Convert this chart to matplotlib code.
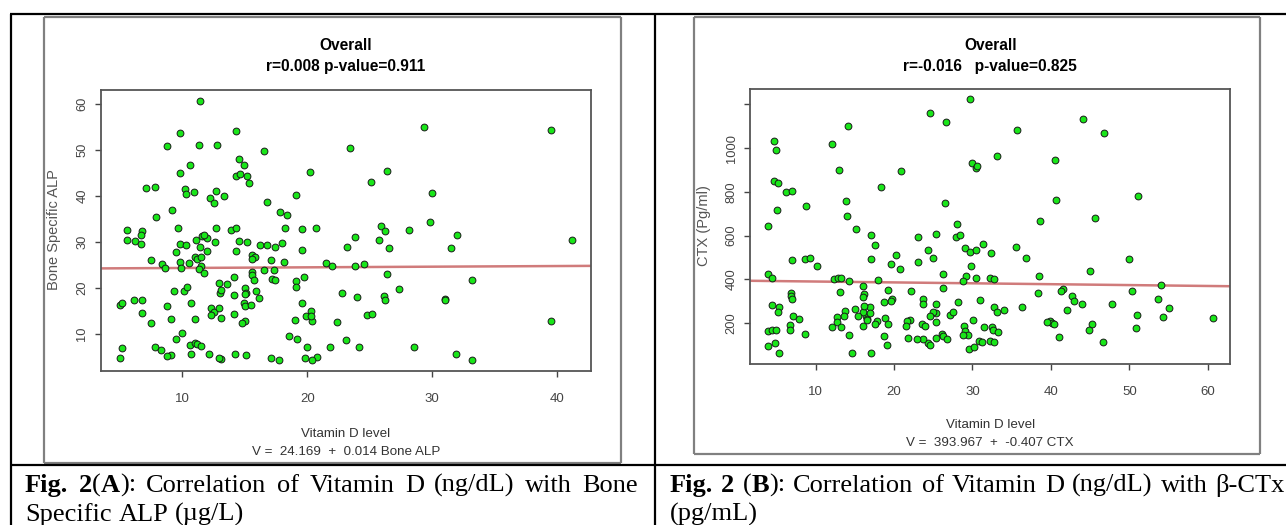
import numpy as np
import matplotlib
matplotlib.use("Agg")
import matplotlib.pyplot as plt
from matplotlib.lines import Line2D

W, H = 1286, 525

# ---- data ----
# Fig. 2(A): vitamin D vs bone specific ALP
vitd_a = [11.4, 9.8, 14.3, 8.75, 11.3, 12.8, 16.5, 29.3, 39.5, 23.4, 14.5, 14.9, 10.6, 9.8,
          14.3, 14.6, 15.2, 15.3, 20.2, 26.4, 25.1, 7.1, 7.8, 10.2, 10.3, 10.9, 12.7, 13.3,
          12.2, 12.5, 16.8, 19.1, 30.0, 7.9, 9.2, 17.8, 18.4, 5.6, 6.8, 6.7, 5.6, 6.2, 6.7,
          9.7, 9.8, 10.3, 9.5, 9.8, 9.9, 8.4, 8.6, 7.5, 10.5, 11.1, 11.6, 12.0, 11.75,
          11.4, 12.0, 11.0, 11.2, 11.5, 11.5, 11.3, 11.7, 12.6, 12.7, 13.9, 14.3, 14.5, 15.2,
          14.3, 16.2, 16.8, 17.4, 18.0, 15.6, 15.8, 15.6, 17.1, 18.1, 18.2, 19.6, 20.7, 19.6,
          16.5, 17.3, 15.6, 15.6, 15.7, 14.1, 17.2, 17.4, 19.1, 19.1, 19.7, 21.5, 22.0, 23.8,
          24.5, 23.2, 23.8, 25.7, 25.9, 26.2, 26.5, 26.4, 28.1, 29.8, 31.5, 32.0, 41.2, 33.2,
          31.0, 31.0, 39.5, 27.3, 24.0, 22.8, 26.1, 26.2, 24.8, 25.2, 22.4, 23.1, 24.1, 28.5,
          31.9, 33.2, 21.8, 20.8, 20.4, 19.8, 20.0, 19.6, 19.9, 20.3, 20.4, 20.3, 19.0, 19.2,
          18.5, 17.1, 17.7, 15.1, 14.2, 13.1, 12.9, 12.1, 10.7, 10.6, 11.0, 11.2, 11.5, 10.0,
          9.5, 9.1, 8.75, 7.8, 8.3, 5.0, 5.2, 5.0, 5.2, 6.1, 6.8, 6.8, 7.5, 8.75, 9.1, 9.3,
          10.1, 10.4, 10.7, 11.0, 12.3, 12.5, 12.3, 12.9, 13.1, 12.9, 13.0, 13.1, 13.6, 14.1,
          14.1, 15.05, 15.1, 15.05, 14.9, 15.05, 15.5, 15.05, 14.8, 15.9, 16.1]
alp_a = [60.7, 53.7, 54.0, 50.8, 51.0, 51.0, 49.8, 55.0, 54.2, 50.4, 48.1, 46.8, 46.6, 45.0,
         44.2, 44.8, 44.3, 42.8, 45.2, 45.5, 43.0, 41.8, 42.0, 41.4, 40.3, 40.8, 41.1, 40.0,
         39.5, 38.5, 38.7, 40.2, 40.6, 35.5, 36.9, 36.4, 35.8, 32.5, 32.3, 31.5, 30.5, 30.1, 29.5,
         33.1, 29.5, 29.4, 27.8, 25.6, 24.3, 25.1, 24.3, 26.1, 25.3, 30.4, 31.2, 30.8, 31.4,
         28.9, 28.1, 26.7, 26.2, 26.7, 24.8, 24.1, 23.2, 30.0, 32.9, 32.5, 32.9, 30.1, 29.9,
         28.0, 29.4, 29.4, 28.9, 29.8, 27.2, 26.7, 26.3, 26.1, 25.5, 33.1, 32.8, 33.0, 28.3,
         23.9, 23.9, 23.5, 22.7, 21.7, 22.3, 22.0, 21.7, 21.5, 20.1, 22.3, 25.3, 24.8, 24.8,
         25.1, 28.9, 31.1, 30.5, 33.4, 32.3, 28.6, 23.1, 32.5, 34.2, 28.7, 31.5, 30.5, 21.7,
         17.6, 17.3, 12.8, 19.8, 18.1, 18.9, 18.2, 17.3, 14.1, 14.3, 12.5, 8.7, 7.2, 7.2,
         5.5, 4.2, 7.2, 5.0, 4.2, 4.7, 7.1, 16.7, 13.9, 15.0, 12.8, 13.8, 13.1, 8.9,
         9.5, 4.7, 4.3, 5.3, 5.5, 4.5, 4.7, 5.5, 5.5, 7.5, 8.1, 7.7, 7.3, 10.2,
         8.8, 5.3, 5.1, 7.1, 6.5, 4.8, 6.9, 16.3, 16.7, 17.3, 17.3, 14.5, 12.3, 16.1, 13.3, 19.3,
         19.4, 20.2, 16.6, 13.3, 15.6, 14.7, 14.1, 15.5, 13.5, 21.1, 18.9, 19.6, 20.8, 18.5,
         14.4, 20.0, 18.9, 18.65, 16.6, 16.1, 16.2, 12.8, 12.3, 19.2, 17.8]

# Fig. 2(B): vitamin D vs CTX
vitd_b = [29.75, 24.6, 26.65, 14.15, 44.1, 46.8, 35.7, 4.75, 5.0, 12.15, 33.1, 40.5, 29.9, 30.4,
          30.6, 13.0, 20.9, 18.35, 4.65, 5.2, 6.3, 7.0, 51.1, 8.75, 13.9, 14.0, 26.5, 40.7, 5.1,
          3.95, 15.2, 17.1, 17.6, 23.0, 25.4, 28.0, 27.9, 28.4, 38.6, 45.6, 24.3, 25.0, 29.1,
          29.7, 30.5, 31.4, 32.4, 35.5, 36.8, 20.2, 19.6, 20.8, 23.1, 17.1, 8.7, 9.3, 7.0, 10.2,
          49.9, 3.95, 4.4, 12.4, 12.9, 13.2, 14.25, 18.0, 29.8, 29.2, 28.8, 26.3, 30.4, 32.3,
          32.8, 38.5, 45.0, 54.0, 16.0, 13.1, 6.9, 6.9, 7.0, 19.2, 19.8, 19.6, 16.2, 16.0, 22.2,
          26.3, 23.7, 23.7, 25.4, 28.2, 31.0, 38.3, 41.6, 41.3, 42.7, 43.0, 44.0, 47.8, 50.4,
          53.7, 55.1, 51.0, 54.3, 60.6, 36.3, 34.0, 32.7, 33.1, 42.1, 39.9, 40.2, 39.5, 40.4,
          45.3, 44.8, 50.9, 41.0, 46.6, 32.5, 32.6, 33.2, 31.5, 30.1, 28.9, 29.1, 29.4, 28.8,
          30.8, 31.2, 32.3, 32.8, 29.5, 30.2, 27.1, 27.5, 26.1, 26.3, 26.8, 25.3, 25.0, 24.6,
          25.4, 25.4, 23.6, 24.0, 24.3, 24.6, 23.7, 22.9, 21.8, 22.1, 21.6, 21.5, 18.9, 19.2,
          18.7, 19.1, 18.7, 17.9, 17.6, 17.0, 16.4, 16.6, 16.0, 16.2, 16.0, 16.9, 16.5, 15.0,
          15.4, 13.7, 13.6, 12.7, 12.8, 13.3, 12.15, 14.3, 14.6, 17.1, 8.7, 7.9, 7.1, 6.7, 6.8,
          5.3, 5.2, 4.5, 3.9, 4.4, 5.0, 3.9, 4.8, 5.3]
ctx_b = [1223, 1161, 1121, 1101, 1133, 1070, 1084, 1034, 992, 1020, 962, 946, 931, 908,
         918, 901, 896, 823, 850, 842, 800, 803, 781, 737, 757, 689, 748, 764, 715,
         644, 631, 604, 556, 592, 607, 654, 595, 602, 665, 682, 533, 498, 544,
         526, 533, 562, 520, 549, 498, 510, 472, 449, 478, 491, 495, 498, 486, 460,
         491, 426, 405, 402, 408, 408, 391, 397, 460, 417, 394, 422, 405, 405,
         402, 413, 439, 373, 371, 342, 336, 322, 310, 351, 312, 300, 335, 320, 345,
         362, 312, 289, 286, 298, 306, 338, 357, 346, 322, 302, 289, 289, 345,
         310, 268, 238, 229, 223, 273, 262, 273, 251, 259, 211, 200, 206, 194,
         197, 168, 176, 136, 112, 182, 169, 160, 184, 214, 188, 165, 145, 145,
         117, 112, 118, 112, 82, 89, 237, 250, 151, 143, 128, 245, 249, 234,
         206, 132, 197, 185, 109, 101, 126, 128, 132, 212, 210, 187, 223, 197,
         143, 101, 295, 208, 197, 274, 234, 218, 249, 278, 185, 247, 214, 265,
         231, 254, 231, 228, 205, 181, 182, 145, 65, 61, 149, 218, 231, 192, 169,
         273, 250, 281, 162, 170, 167, 94, 107, 62]

# fitted lines printed under each plot
fit_a = (24.169, 0.014)
fit_b = (393.967, -0.407)

xticks_a = [10, 20, 30, 40]
yticks_a = [10, 20, 30, 40, 50, 60]
xticks_b = [10, 20, 30, 40, 50, 60]
yticks_b = [200, 400, 600, 800, 1000, 1200]
ylabels_b = ["200", "400", "600", "800", "1000", ""]

NARROW = ["Liberation Sans Narrow", "Liberation Sans", "DejaVu Sans"]
SANS = ["Liberation Sans", "DejaVu Sans"]
SERIF = ["Liberation Serif", "DejaVu Serif"]

fig = plt.figure(figsize=(W / 100, H / 100), dpi=100)
fig.patch.set_facecolor("white")


def fx(x):
    return x / W


def fy(y):
    return 1 - y / H


def pline(x0, y0, x1, y1, color="black", lw=1.5):
    fig.add_artist(Line2D([fx(x0), fx(x1)], [fy(y0), fy(y1)], color=color, lw=lw,
                          transform=fig.transFigure, solid_capstyle="butt"))


def box(x0, y0, x1, y1, color, lw):
    pline(x0, y0, x1, y0, color, lw)
    pline(x0, y1, x1, y1, color, lw)
    pline(x0, y0, x0, y1, color, lw)
    pline(x1, y0, x1, y1, color, lw)


def panel(rect, x, y, fit, xt, yt, ytl, xlim, ylim, stat):
    l, t, r, b = rect
    ax = fig.add_axes([fx(l), fy(b), fx(r - l), (b - t) / H])
    ax.scatter(x, y, s=24, c="#19e619", edgecolors="#1a1a1a", linewidths=0.7, zorder=3)
    xs = np.array(xlim)
    ax.plot(xs, fit[0] + fit[1] * xs, color="#c86464", lw=1.8, alpha=0.85, zorder=2)
    ax.set_xlim(xlim)
    ax.set_ylim(ylim)
    ax.set_xticks(xt)
    ax.set_xticklabels([str(v) for v in xt], family=NARROW, fontsize=9.5, color="#333333")
    ax.set_yticks(yt)
    ax.set_yticklabels(ytl, family=SANS, fontsize=9.3, color="#333333",
                       rotation=90, va="center")
    ax.tick_params(axis="x", length=4, width=1, pad=12, colors="#444444")
    ax.tick_params(axis="y", length=4, width=1, pad=5, colors="#444444")
    for sp in ax.spines.values():
        sp.set_color("#555555")
        sp.set_linewidth(1.3)
    cx = (l + r) / 2
    fig.text(fx(cx), fy(45), "Overall", ha="center", va="center", family=NARROW,
             fontsize=11.2, fontweight="bold")
    fig.text(fx(cx), fy(66), stat, ha="center", va="center", family=NARROW,
             fontsize=11.2, fontweight="bold")
    return ax, cx


ax_a, cx_a = panel((101, 89.7, 590.5, 371), vitd_a, alp_a, fit_a, xticks_a, yticks_a,
                   [str(v) for v in yticks_a], (3.5, 42.66), (1.91, 63.07),
                   "r=0.008 p-value=0.911")
fig.text(fx(54), fy(230), "Bone Specific ALP", rotation=90, ha="center", va="center",
         family=SANS, fontsize=10.5, color="#555555")
fig.text(fx(cx_a), fy(434), "Vitamin D level", ha="center", va="center",
         family=NARROW, fontsize=9.6, color="#333333")
fig.text(fx(cx_a), fy(452), "V =  24.169  +  0.014 Bone ALP", ha="center", va="center",
         family=NARROW, fontsize=9.6, color="#333333")

ax_b, cx_b = panel((750, 88.7, 1230.4, 364), vitd_b, ctx_b, fit_b, xticks_b, yticks_b,
                   ylabels_b, (1.65, 62.88), (13, 1271),
                   "r=-0.016   p-value=0.825")
fig.text(fx(704), fy(226), "CTX (Pg/ml)", rotation=90, ha="center", va="center",
         family=SANS, fontsize=10.5, color="#555555")
fig.text(fx(cx_b), fy(425), "Vitamin D level", ha="center", va="center",
         family=NARROW, fontsize=9.6, color="#333333")
fig.text(fx(cx_b), fy(443.5), "V =  393.967  +  -0.407 CTX", ha="center", va="center",
         family=NARROW, fontsize=9.6, color="#333333")

# image frames and table rules
box(44, 17, 621, 463, "#808080", 1.6)
box(694, 17, 1260, 454, "#808080", 1.6)
pline(10, 14, W, 14, "black", 1.6)
pline(10, 465, W, 465, "black", 1.6)
pline(10.5, 14, 10.5, H, "black", 1.6)
pline(655, 14, 655, H, "black", 1.6)

# captions (first line justified)
renderer = fig.canvas.get_renderer()
CAP = 19


def run_width(s, bold):
    t = fig.text(0, 0, s, family=SERIF, fontsize=CAP, fontweight="bold" if bold else "normal")
    w = t.get_window_extent(renderer).width
    t.remove()
    return w


def caption_line(words, x0, x1, base, justify):
    widths = [sum(run_width(s, b) for s, b in wd) for wd in words]
    space = run_width("a b", False) - run_width("ab", False)
    if justify and len(words) > 1:
        gap = (x1 - x0 - sum(widths)) / (len(words) - 1)
    else:
        gap = space
    x = x0
    for wd, w in zip(words, widths):
        xr = x
        for s, b in wd:
            fig.text(fx(xr), fy(base), s, family=SERIF, fontsize=CAP, va="baseline",
                     fontweight="bold" if b else "normal")
            xr += run_width(s, b)
        x += w + gap


def plain(text):
    return [[(w, False)] for w in text.split()]


cap_a1 = [[("Fig.", True)], [("2", True), ("(", False), ("A", True), ("):", False)]] + \
    plain("Correlation of Vitamin D (ng/dL) with Bone")
cap_b1 = [[("Fig.", True)], [("2", True)], [("(", False), ("B", True), ("):", False)]] + \
    plain("Correlation of Vitamin D (ng/dL) with β-CTx")
caption_line(cap_a1, 25, 638, 492, True)
caption_line(plain("Specific ALP (µg/L)"), 25, 638, 521, False)
caption_line(cap_b1, 670, 1285, 492, True)
caption_line(plain("(pg/mL)"), 670, 1285, 521, False)

fig.savefig("out.png", dpi=100)
